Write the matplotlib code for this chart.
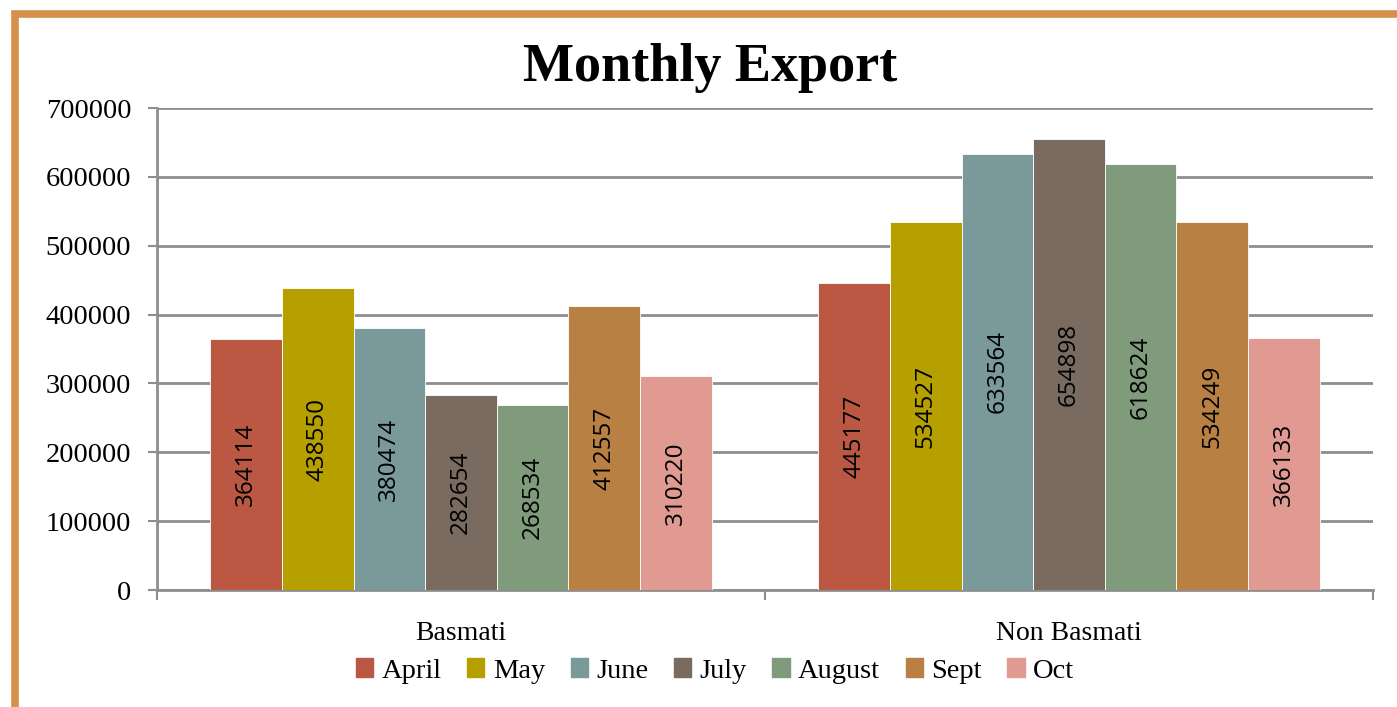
import matplotlib.pyplot as plt
import numpy as np
from matplotlib.patches import Rectangle, Patch

categories = ["Basmati", "Non Basmati"]
months = ["April", "May", "June", "July", "August", "Sept", "Oct"]
basmati = [364114, 438550, 380474, 282654, 268534, 412557, 310220]
non_basmati = [445177, 534527, 633564, 654898, 618624, 534249, 366133]
colors = ["#BA5843", "#B5A000", "#7A999B", "#7A6B60", "#7F9B7B", "#B98043", "#E09A92"]

serif = ["Liberation Serif", "DejaVu Serif"]
sans = ["Open Sans", "DejaVu Sans"]

fig = plt.figure(figsize=(13.97, 7.07), dpi=100)
fig.patch.set_facecolor("white")

# orange frame around the chart area
W, H = 1397, 707
fig.patches.append(Rectangle((15.5 / W, -0.05), 1.2, 1 - 13.5 / H + 0.05,
                             transform=fig.transFigure, fill=False,
                             edgecolor="#D4914B", linewidth=5.5, zorder=0))

ax = fig.add_axes([157 / W, 1 - 590 / H, (1373 - 157) / W, (590 - 108) / H])
ax.set_facecolor("white")

x = np.arange(len(categories))
width = 0.1178
values = np.array([basmati, non_basmati])
for i, m in enumerate(months):
    pos = x + (i - 3) * width
    bars = ax.bar(pos, values[:, i], width, color=colors[i], edgecolor="white",
                  linewidth=0.6, label=m, zorder=3)
    for b, v in zip(bars, values[:, i]):
        ax.text(b.get_x() + b.get_width() / 2, v / 2, str(v), rotation=90,
                ha="center", va="center", fontsize=17.5, family=sans,
                color="black", zorder=4)

ax.set_xlim(-0.5, 1.5)
ax.set_ylim(0, 700000)
ax.set_yticks(np.arange(0, 700001, 100000))
ax.set_yticklabels([str(v) for v in range(0, 700001, 100000)], family=serif,
                   fontsize=20.5)
ax.yaxis.grid(True, color="#8E8E8E", linewidth=2, zorder=0)
ax.tick_params(axis="y", length=6.5, width=1.5, color="#8E8E8E", pad=12)

ax.set_xticks(x)
ax.set_xticklabels(categories, family=serif, fontsize=20)
ax.set_xticks([-0.5, 0.5, 1.5], minor=True)
ax.tick_params(axis="x", which="major", length=0, pad=22)
ax.tick_params(axis="x", which="minor", length=7, width=1.5, color="#8E8E8E")

for s in ["top", "right"]:
    ax.spines[s].set_visible(False)
for s in ["left", "bottom"]:
    ax.spines[s].set_color("#8E8E8E")
    ax.spines[s].set_linewidth(2)

fig.text(710 / W, 1 - 68 / H, "Monthly Export", ha="center", va="center",
         fontsize=39, fontweight="bold", family=serif)

handles = [Patch(color=c, label=m) for c, m in zip(colors, months)]
fig.legend(handles=handles, loc="center", bbox_to_anchor=(715 / W, 1 - 671 / H),
           ncol=7, frameon=False, prop={"family": serif, "size": 20.5},
           handlelength=0.6, handleheight=0.6, handletextpad=0.3,
           columnspacing=0.9)

fig.savefig("out.png", dpi=100, facecolor="white")
